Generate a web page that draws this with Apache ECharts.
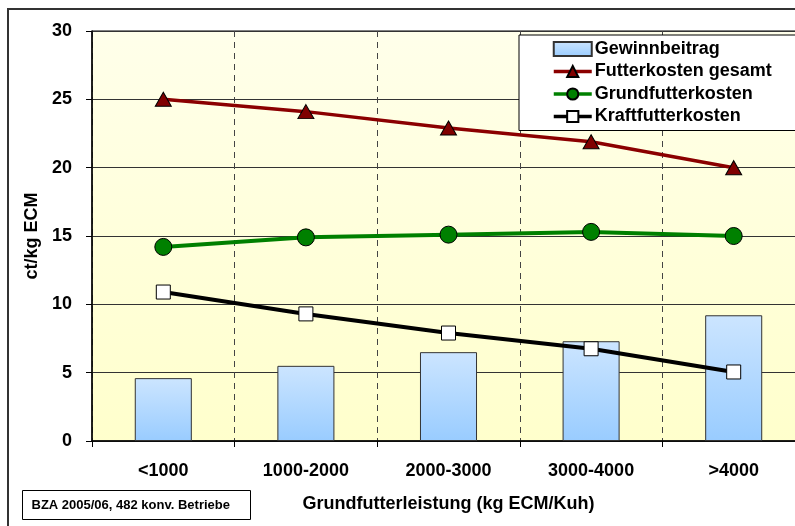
<!DOCTYPE html>
<html>
<head>
<meta charset="utf-8">
<script src="https://cdn.jsdelivr.net/npm/echarts@6/dist/echarts.min.js"></script>
<style>
html,body{margin:0;padding:0;background:#fff;}
#c{width:795px;height:526px;}
</style>
</head>
<body>
<div id="c"></div>
<script>
var categories = ['<1000', '1000-2000', '2000-3000', '3000-4000', '>4000'];
var gewinnbeitrag = [4.6, 5.5, 6.5, 7.3, 9.2];
var futterkostenGesamt = [25.0, 24.1, 22.9, 21.9, 20.0];
var grundfutterkosten = [14.2, 14.9, 15.1, 15.3, 15.0];
var kraftfutterkosten = [10.9, 9.3, 7.9, 6.75, 5.05];
var yTicks = [0, 5, 10, 15, 20, 25, 30];

var FONT = 'Liberation Sans, Arial, sans-serif';
var chart = echarts.init(document.getElementById('c'), null, {renderer: 'canvas'});

var option = {
  animation: false,
  textStyle: {fontFamily: FONT},
  graphic: [
    {type: 'rect', z: -10, shape: {x: 8, y: 9, width: 820, height: 540},
     style: {fill: '#fff', stroke: '#333', lineWidth: 2}},
    {type: 'group', left: 22, top: 490, z: 10, children: [
      {type: 'rect', shape: {x: 0, y: 0, width: 228, height: 29},
       style: {fill: '#fff', stroke: '#000', lineWidth: 1}},
      {type: 'text', x: 9, y: 15,
       style: {text: 'BZA 2005/06, 482 konv. Betriebe', fill: '#000',
               font: 'bold 13px ' + FONT, textVerticalAlign: 'middle'}}
    ]}
  ],
  grid: {
    left: 92, top: 31, right: -10, bottom: 85,
    outerBoundsMode: 'none',
    containLabel: false,
    show: true, borderColor: '#000', borderWidth: 1,
    backgroundColor: new echarts.graphic.LinearGradient(0, 0, 0, 1, [
      {offset: 0, color: '#FFFFEA'}, {offset: 1, color: '#FFFFCC'}
    ])
  },
  legend: {
    orient: 'vertical', left: 519, top: 35,
    padding: [5, 40, 5, 33],
    backgroundColor: '#fff', borderColor: '#000', borderWidth: 1,
    itemWidth: 38, itemHeight: 14, itemGap: 4.5,
    lineStyle: {width: 3.5},
    textStyle: {fontSize: 18, fontWeight: 'bold', color: '#000', fontFamily: FONT, padding: [0,0,0,-2]},
    data: [
      {name: 'Gewinnbeitrag', icon: 'rect'},
      'Futterkosten gesamt', 'Grundfutterkosten', 'Kraftfutterkosten'
    ]
  },
  xAxis: {
    type: 'category', data: categories, boundaryGap: true,
    name: 'Grundfutterleistung (kg ECM/Kuh)', nameLocation: 'middle', nameGap: 54,
    nameTextStyle: {fontSize: 18, fontWeight: 'bold', color: '#000', fontFamily: FONT},
    axisLine: {lineStyle: {color: '#000', width: 1.5}},
    axisTick: {show: true, inside: false, length: 6, lineStyle: {color: '#000'}},
    axisLabel: {fontSize: 18, fontWeight: 'bold', color: '#000', margin: 21, fontFamily: FONT},
    splitLine: {show: true, lineStyle: {color: '#444', type: [6, 5], width: 1}}
  },
  yAxis: {
    type: 'value', min: 0, max: 30, interval: 5,
    name: 'ct/kg ECM', nameLocation: 'middle', nameGap: 50, nameRotate: 90,
    nameTextStyle: {fontSize: 18, fontWeight: 'bold', color: '#000', fontFamily: FONT},
    axisLine: {show: true, lineStyle: {color: '#000', width: 1.5}},
    axisTick: {show: true, inside: false, length: 6, lineStyle: {color: '#000'}},
    axisLabel: {fontSize: 18, fontWeight: 'bold', color: '#000', margin: 20, fontFamily: FONT,
      formatter: function (v) { return yTicks.indexOf(v) >= 0 ? String(v) : ''; }},
    splitLine: {show: true, lineStyle: {color: '#333', width: 1}}
  },
  series: [
    {
      name: 'Gewinnbeitrag', type: 'bar', data: gewinnbeitrag, barWidth: '40%',
      itemStyle: {
        color: new echarts.graphic.LinearGradient(0, 0, 0, 1, [
          {offset: 0, color: '#CCE5FF'}, {offset: 1, color: '#99CCFF'}
        ]),
        borderColor: '#333', borderWidth: 1
      }
    },
    {
      name: 'Futterkosten gesamt', type: 'line', data: futterkostenGesamt,
      symbol: 'triangle', symbolSize: [16, 14],
      lineStyle: {color: '#8B0000', width: 3.5},
      itemStyle: {color: '#800000', borderColor: '#000', borderWidth: 1}
    },
    {
      name: 'Grundfutterkosten', type: 'line', data: grundfutterkosten,
      symbol: 'circle', symbolSize: 17,
      lineStyle: {color: '#008000', width: 4},
      itemStyle: {color: '#008000', borderColor: '#000', borderWidth: 1}
    },
    {
      name: 'Kraftfutterkosten', type: 'line', data: kraftfutterkosten,
      symbol: 'rect', symbolSize: 14,
      lineStyle: {color: '#000', width: 4},
      itemStyle: {color: '#fff', borderColor: '#000', borderWidth: 1}
    }
  ]
};
chart.setOption(option);
</script>
</body>
</html>
